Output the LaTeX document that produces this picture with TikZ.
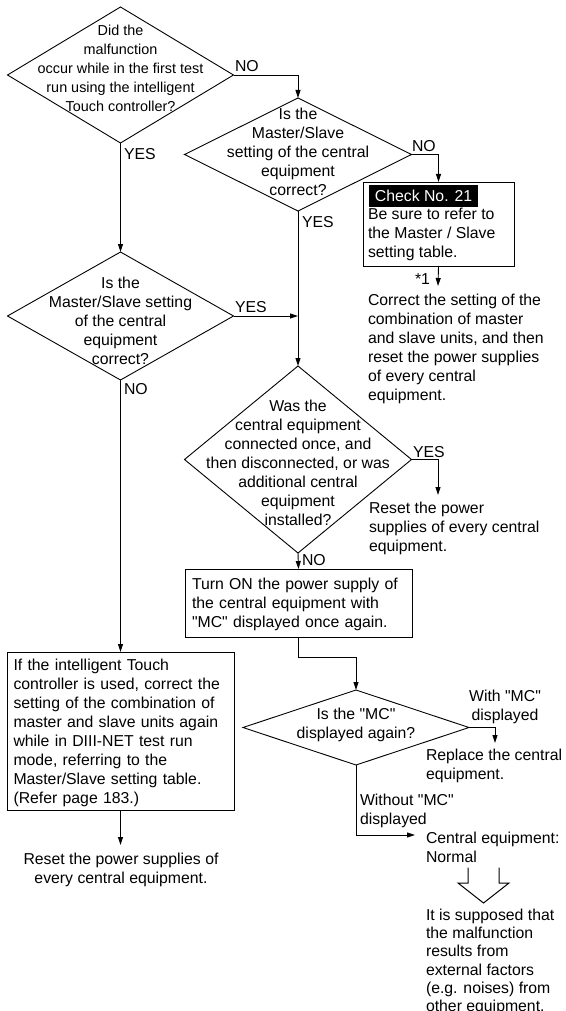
\documentclass[tikz,border=0pt]{standalone}
\usepackage{fontspec}
\setmainfont{Liberation Sans}
\usetikzlibrary{shapes.geometric,arrows.meta}
\newcommand\mystrut{\rule[-0.4pt]{0pt}{15.4pt}}
\newcommand\qd{\textquotedbl}
\begin{document}
\begin{tikzpicture}[x=1pt,y=-1pt,
  every node/.style={font=\fontsize{15.8}{19}\selectfont, inner sep=0pt, outer sep=0pt},
  txt/.style={align=left, execute at begin node=\mystrut, execute at end node=\mystrut},
  ctxt/.style={align=center, execute at begin node=\mystrut, execute at end node=\mystrut},
  dia/.style={draw, shape=diamond, line width=0.9pt},
  boxed/.style={draw, rectangle, line width=0.9pt},
  arr/.style={line width=0.9pt, -{Triangle[length=8pt,width=5pt]}},
  conn/.style={line width=1pt},
  lbl/.style={anchor=west}
]
\useasboundingbox (0,0) rectangle (565,1011);

% decision diamonds
\node[dia, minimum width=226pt, minimum height=136pt] (D1) at (120.5,75) {};
\node[dia, minimum width=227pt, minimum height=113pt] (D2) at (298,154.5) {};
\node[dia, minimum width=226pt, minimum height=128pt] (D4) at (120.5,316) {};
\node[dia, minimum width=227pt, minimum height=187pt] (D3) at (298,459.5) {};
\node[dia, minimum width=226pt, minimum height=75pt] (D5) at (356,727.5) {};

% diamond texts
\node[ctxt, font=\fontsize{14.4}{19}\selectfont] (T1) at (120.5,68) {Did the\\malfunction\\occur while in the first test\\run using the intelligent\\Touch controller?};
\node[ctxt] (T2) at (298,152) {Is the\\Master/Slave\\setting of the central\\equipment\\correct?};
\node[ctxt] (T4) at (120.5,321) {Is the\\Master/Slave setting\\of the central\\equipment\\correct?};
\node[ctxt] (T3) at (298,463) {Was the\\central equipment\\connected once, and\\then disconnected, or was\\additional central\\equipment\\installed?};
\node[ctxt] (T5) at (356,725) {Is the \qd MC\qd\\displayed again?};

% check box
\node[boxed, minimum width=151pt, minimum height=84pt] (CHK) at (438.5,224) {};
\node[anchor=north west, fill=black, text=white, minimum height=22pt, minimum width=109pt] (TAG) at (369,185) {Check No. 21};
\node[txt, lbl] (CHKT) at (368,234.5) {Be sure to refer to\\the Master / Slave\\setting table.};

% process boxes
\node[boxed, txt, minimum width=227pt, minimum height=68pt, text width=213pt, inner xsep=7pt] (B1) at (298.5,603) {Turn ON the power supply of\\the central equipment with\\\qd MC\qd{} displayed once again.};
\node[boxed, txt, minimum width=227pt, minimum height=158pt, text width=214pt, inner xsep=6.5pt] (B2) at (120.5,731) {If the intelligent Touch\\controller is used, correct the\\setting of the combination of\\master and slave units again\\while in DIII-NET test run\\mode, referring to the\\Master/Slave setting table.\\(Refer page 183.)};

% free end points
\coordinate (c1) at (438,286);
\coordinate (c2) at (438,495);
\coordinate (j1) at (298,316);
\coordinate (c3) at (495,743);
\coordinate (c4) at (415,835);
\coordinate (c5) at (120.5,845);

% result texts
\node[txt, lbl] (R1) at (368,348.5) {Correct the setting of the\\combination of master\\and slave units, and then\\reset the power supplies\\of every central\\equipment.};
\node[txt, lbl] (R2) at (369,528) {Reset the power\\supplies of every central\\equipment.};
\node[ctxt] (WMC) at (505,706.5) {With \qd MC\qd\\displayed};
\node[txt, lbl] (R3) at (426,766) {Replace the central\\equipment.};
\node[txt, lbl] (WOMC) at (360,811) {Without \qd MC\qd\\displayed};
\node[txt, lbl] (R4) at (426,847.5) {Central equipment:\\Normal};
\node[txt, lbl, font=\fontsize{15.8}{18.2}\selectfont] (R5) at (426,962) {It is supposed that\\the malfunction\\results from\\external factors\\(e.g. noises) from\\other equipment.};
\node[ctxt] (R6) at (121,869.5) {Reset the power supplies of\\every central equipment.};

% yes/no labels
\node[lbl] (L1) at (235,66) {NO};
\node[lbl] (L2) at (124,154) {YES};
\node[lbl] (L3) at (412,146) {NO};
\node[lbl] (L4) at (302,222) {YES};
\node[lbl] (L5) at (235,307) {YES};
\node[lbl] (L6) at (124,389) {NO};
\node[lbl] (L7) at (413,452) {YES};
\node[lbl] (L8) at (302,560) {NO};
\node[lbl] (L9) at (415,279) {*1};

% connectors
\draw[arr] (D1.east) -| (D2.north);
\draw[arr] (D1.south) -- (D4.north);
\draw[arr] (D2.east) -| (CHK.north);
\draw[arr] (D2.south) -- (D3.north);
\draw[arr] (D4.east) -- (j1);
\draw[arr] (CHK.south) -- (c1);
\draw[arr] (D3.east) -| (c2);
\draw[arr] (D3.south) -- (B1.north);
\draw[arr] (B1.south) -- ++(0,20) -| (D5.north);
\draw[arr] (D5.east) -| (c3);
\draw[arr] (D5.south) |- (c4);
\draw[arr] (D4.south) -- (B2.north);
\draw[arr] (B2.south) -- (c5);

% hollow arrow
\draw[conn, line join=miter] (468,867.5) -- (468,883) -- (458,883) -- (483.5,903) -- (509,883) -- (499,883) -- (499,867.5);
\end{tikzpicture}
\end{document}
